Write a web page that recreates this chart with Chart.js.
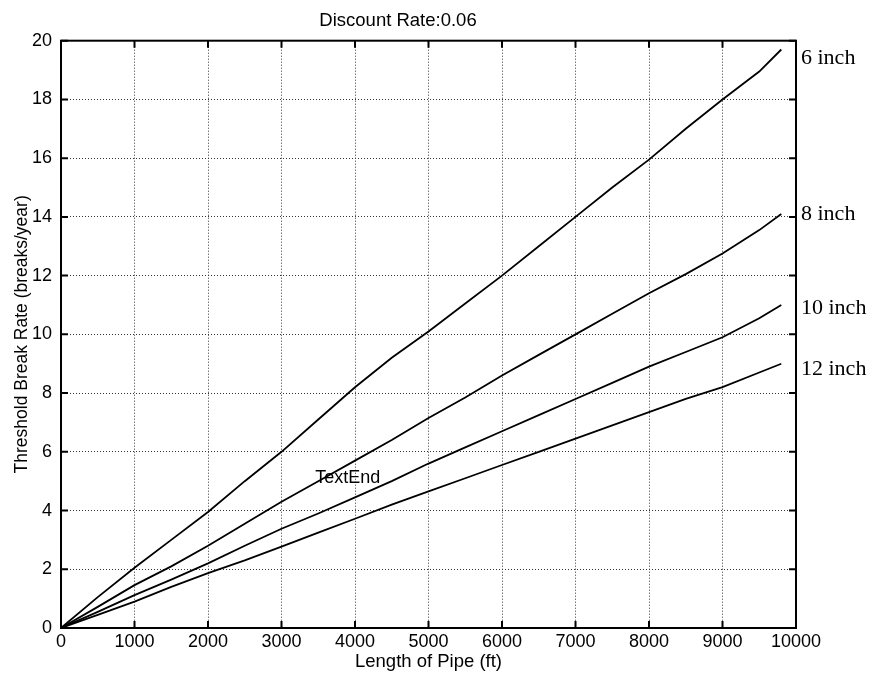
<!DOCTYPE html>
<html>
<head>
<meta charset="utf-8">
<script src="https://cdn.jsdelivr.net/npm/chart.js@4"></script>
<style>
  html, body { margin: 0; padding: 0; background: #fff; }
  #wrap { width: 870px; height: 675px; }
</style>
</head>
<body>
<div id="wrap"><canvas id="chart"></canvas></div>
<script>
// x values (ft)
const lengths = [0, 500, 1000, 1500, 2000, 2500, 3000, 3500, 4000, 4500, 5000,
                 5500, 6000, 6500, 7000, 7500, 8000, 8500, 9000, 9500, 9800];

// threshold break rate (breaks/year)
const inch6  = [0, 1.05, 2.05, 3.0, 3.95, 5.0, 6.0, 7.1, 8.2, 9.2, 10.1,
                11.05, 12.0, 13.0, 14.0, 15.0, 15.95, 17.0, 18.0, 18.95, 19.7];
const inch8  = [0, 0.72, 1.46, 2.1, 2.8, 3.55, 4.3, 5.0, 5.7, 6.4, 7.15,
                7.85, 8.6, 9.3, 10.0, 10.7, 11.4, 12.05, 12.75, 13.55, 14.1];
const inch10 = [0, 0.55, 1.12, 1.65, 2.2, 2.8, 3.38, 3.9, 4.45, 5.0, 5.6,
                6.15, 6.7, 7.25, 7.8, 8.35, 8.9, 9.4, 9.9, 10.55, 11.0];
const inch12 = [0, 0.45, 0.9, 1.4, 1.87, 2.3, 2.77, 3.25, 3.72, 4.2, 4.65,
                5.1, 5.55, 6.0, 6.45, 6.9, 7.35, 7.8, 8.2, 8.7, 9.0];

const seriesNames = ["6 inch", "8 inch", "10 inch", "12 inch"];
const labelY = [19.4, 14.1, 10.9, 8.8];

const xTicks = [0, 1000, 2000, 3000, 4000, 5000, 6000, 7000, 8000, 9000, 10000];
const yTicks = [0, 2, 4, 6, 8, 10, 12, 14, 16, 18, 20];

const SANS = "'Liberation Sans', Arial, sans-serif";

function pts(ys) {
    return lengths.map((x, i) => ({ x: x, y: ys[i] }));
}

// frame, inward ticks, right-hand labels, TextEnd
const decor = {
    id: "decor",
    afterDraw(chart) {
        const ctx = chart.ctx;
        const a = chart.chartArea;
        const sx = chart.scales.x;
        const sy = chart.scales.y;
        ctx.save();
        ctx.setLineDash([]);
        ctx.strokeStyle = "#000";
        ctx.lineWidth = 2;
        ctx.strokeRect(a.left, a.top, a.right - a.left, a.bottom - a.top);

        const len = 7;
        ctx.beginPath();
        xTicks.forEach(v => {
            const p = sx.getPixelForValue(v);
            ctx.moveTo(p, a.bottom); ctx.lineTo(p, a.bottom - len);
            ctx.moveTo(p, a.top); ctx.lineTo(p, a.top + len);
        });
        yTicks.forEach(v => {
            const p = sy.getPixelForValue(v);
            ctx.moveTo(a.left, p); ctx.lineTo(a.left + len, p);
            ctx.moveTo(a.right, p); ctx.lineTo(a.right - len, p);
        });
        ctx.stroke();

        ctx.fillStyle = "#000";
        ctx.font = "22px 'Liberation Serif', 'DejaVu Serif', serif";
        ctx.textAlign = "left";
        ctx.textBaseline = "middle";
        seriesNames.forEach((n, i) => {
            ctx.fillText(n, a.right + 5, sy.getPixelForValue(labelY[i]));
        });

        ctx.font = "18px " + SANS;
        ctx.textAlign = "center";
        ctx.fillText("TextEnd", sx.getPixelForValue(3900), sy.getPixelForValue(5.1));
        ctx.restore();
    }
};

const lineStyle = {
    borderColor: "#000",
    borderWidth: 1.8,
    pointRadius: 0,
    tension: 0,
    fill: false
};

new Chart(document.getElementById("chart"), {
    type: "line",
    data: {
        datasets: [
            Object.assign({ label: seriesNames[0], data: pts(inch6) }, lineStyle),
            Object.assign({ label: seriesNames[1], data: pts(inch8) }, lineStyle),
            Object.assign({ label: seriesNames[2], data: pts(inch10) }, lineStyle),
            Object.assign({ label: seriesNames[3], data: pts(inch12) }, lineStyle)
        ]
    },
    options: {
        responsive: true,
        maintainAspectRatio: false,
        animation: false,
        layout: { padding: { left: 0, right: 74, top: 0, bottom: 0 } },
        plugins: {
            legend: { display: false },
            tooltip: { enabled: false },
            title: {
                display: true,
                text: "Discount Rate:0.06",
                color: "#000",
                font: { family: SANS, size: 18.5, weight: "normal" },
                padding: { top: 10, bottom: 8.5 }
            }
        },
        scales: {
            x: {
                type: "linear",
                min: 0,
                max: 10000,
                afterBuildTicks: s => { s.ticks = xTicks.map(v => ({ value: v })); },
                afterFit: s => { s.height = 47; },
                grid: { color: "#333", lineWidth: 1, drawTicks: false },
                border: { display: false, dash: [1, 2] },
                ticks: {
                    color: "#000",
                    padding: 3,
                    maxRotation: 0,
                    autoSkip: false,
                    callback: v => String(v),
                    font: { family: SANS, size: 18 }
                },
                title: {
                    display: true,
                    text: "Length of Pipe (ft)",
                    color: "#000",
                    padding: { top: 0, bottom: 2 },
                    font: { family: SANS, size: 18.5 }
                }
            },
            y: {
                min: 0,
                max: 20,
                afterBuildTicks: s => { s.ticks = yTicks.map(v => ({ value: v })); },
                afterFit: s => { s.width = 61; },
                grid: { color: "#333", lineWidth: 1, drawTicks: false },
                border: { display: false, dash: [1, 2] },
                ticks: {
                    color: "#000",
                    padding: 9,
                    autoSkip: false,
                    callback: v => String(v),
                    font: { family: SANS, size: 18 }
                },
                title: {
                    display: true,
                    text: "Threshold Break Rate (breaks/year)",
                    color: "#000",
                    padding: { top: 12, bottom: 0 },
                    font: { family: SANS, size: 17.5 }
                }
            }
        }
    },
    plugins: [decor]
});
</script>
</body>
</html>
